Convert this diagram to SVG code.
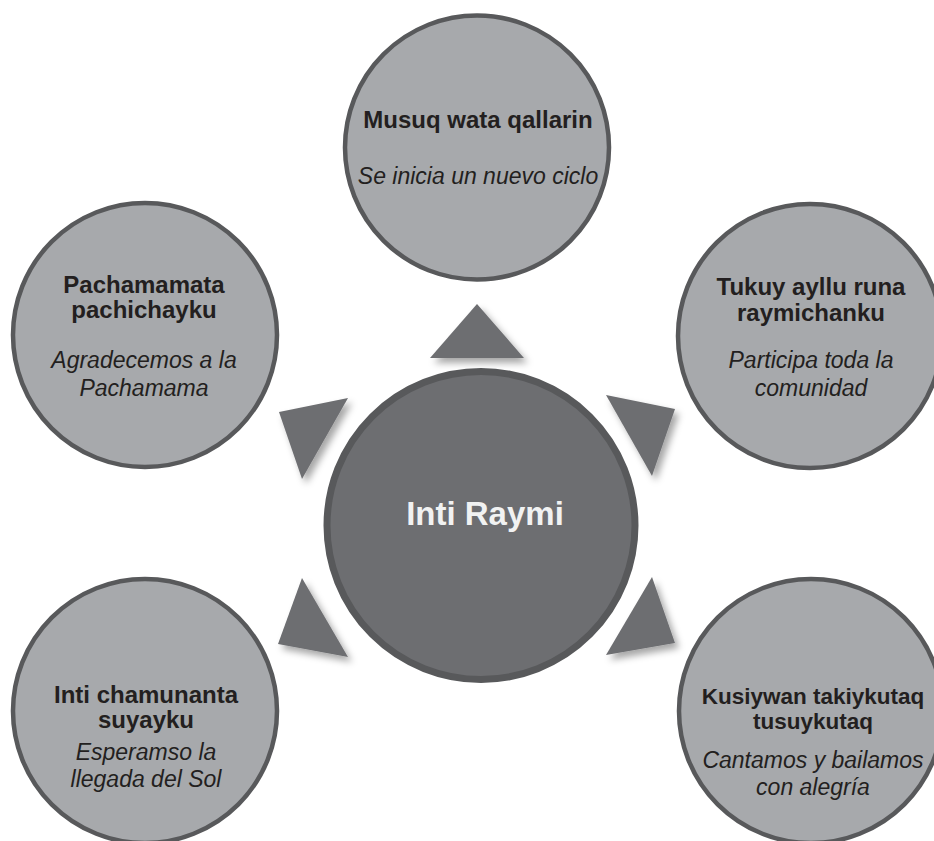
<svg xmlns="http://www.w3.org/2000/svg" width="934" height="841" viewBox="0 0 934 841">
<defs>
<filter id="shadow" x="-40%" y="-40%" width="180%" height="180%">
<feDropShadow dx="4" dy="5" stdDeviation="3.5" flood-color="#000" flood-opacity="0.35"/>
</filter>
<style>
.outer{fill:#a7a9ac;stroke:#58595b;stroke-width:4.5}
.center{fill:#6d6e71;stroke:#58595b;stroke-width:7}
.tri{fill:#6d6e71;filter:url(#shadow)}
.t{font-family:"Liberation Sans",Arial,sans-serif;font-weight:bold;font-size:24px;fill:#231f20;text-anchor:middle}
.s{font-family:"Liberation Sans",Arial,sans-serif;font-style:italic;font-size:23px;fill:#231f20;text-anchor:middle}
.c{font-family:"Liberation Sans",Arial,sans-serif;font-weight:bold;font-size:33px;fill:#f1f2f2;text-anchor:middle}
</style>
</defs>
<rect width="934" height="841" fill="#ffffff"/>
<g id="connectors">
<polygon class="tri" points="477,304 430,358 524,358"/>
<polygon class="tri" points="279,412 348,398 302,479"/>
<polygon class="tri" points="606,395 675,409 652,476"/>
<polygon class="tri" points="302,578 278,644 348,657"/>
<polygon class="tri" points="652,577 675,643 606,655"/>
</g>
<g id="node-top">
<circle class="outer" cx="477" cy="147.5" r="132"/>
<text class="t" x="478" y="128">Musuq wata qallarin</text>
<text class="s" x="478" y="184">Se inicia un nuevo ciclo</text>
</g>
<g id="node-top-left">
<circle class="outer" cx="145" cy="335" r="132"/>
<text class="t" x="144" y="293">Pachamamata</text>
<text class="t" x="144" y="318">pachichayku</text>
<text class="s" x="144" y="368">Agradecemos a la</text>
<text class="s" x="144" y="396">Pachamama</text>
</g>
<g id="node-top-right">
<circle class="outer" cx="810" cy="336" r="132"/>
<text class="t" x="811" y="295">Tukuy ayllu runa</text>
<text class="t" x="811" y="321">raymichanku</text>
<text class="s" x="811" y="368">Participa toda la</text>
<text class="s" x="811" y="396">comunidad</text>
</g>
<g id="node-bottom-left">
<circle class="outer" cx="145" cy="711" r="132"/>
<text class="t" x="146" y="703">Inti chamunanta</text>
<text class="t" x="146" y="728">suyayku</text>
<text class="s" x="146" y="760">Esperamso la</text>
<text class="s" x="146" y="787">llegada del Sol</text>
</g>
<g id="node-bottom-right">
<circle class="outer" cx="811" cy="711" r="132"/>
<text class="t" x="813" y="704" style="font-size:22.5px">Kusiywan takiykutaq</text>
<text class="t" x="813" y="729" style="font-size:22.5px">tusuykutaq</text>
<text class="s" x="813" y="768">Cantamos y bailamos</text>
<text class="s" x="813" y="795">con alegría</text>
</g>
<g id="node-center">
<circle class="center" cx="481" cy="525.5" r="154"/>
<text class="c" x="485" y="525">Inti Raymi</text>
</g>
</svg>
